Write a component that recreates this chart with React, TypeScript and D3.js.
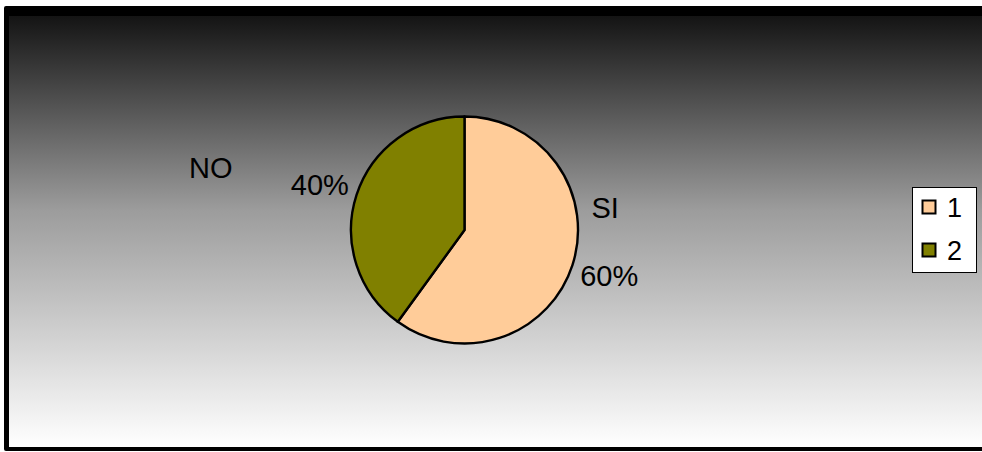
import React from "react";
import * as d3 from "d3";

const categories = ["1", "2"];
const values = [60, 40];
const sliceNames = ["SI", "NO"];
const colors = ["#FFCC99", "#808000"];

const W = 982;
const H = 452;
const cx = 464.5;
const cy = 230;
const R = 113.5;
const FONT = "'Liberation Sans', Arial, sans-serif";
// small nudges of the percentage labels and category names (relative to the label arc)
const pctOffsets: [number, number][] = [
  [2, 0],
  [-2, 1],
];
const nameOffsets: [number, number][] = [
  [-2, -68],
  [-111, -16],
];

export default function App() {
  const pie = d3.pie<number>().value((d) => d).sort(null);
  const arcs = pie(values);
  const arcGen = d3.arc<d3.PieArcDatum<number>>().innerRadius(0).outerRadius(R);
  const labelArc = d3.arc<d3.PieArcDatum<number>>().innerRadius(150).outerRadius(150);
  const total = d3.sum(values);

  return (
    <svg
      width={W}
      height={H}
      style={{ position: "absolute", left: 0, top: 0, display: "block" }}
    >
      <defs>
        <linearGradient id="bg" x1="0" y1="0" x2="0" y2="1">
          <stop offset="0%" stopColor="#141414" />
          <stop offset="45%" stopColor="#9c9c9c" />
          <stop offset="100%" stopColor="#ffffff" />
        </linearGradient>
      </defs>
      <rect x={0} y={0} width={W} height={H} fill="#ffffff" />
      {/* frame */}
      <rect x={4} y={6} width={W} height={445} fill="#000000" rx={2} />
      <rect x={9} y={16} width={W} height={431} fill="url(#bg)" />

      <g transform={`translate(${cx},${cy})`}>
        {arcs.map((a, i) => (
          <path
            key={i}
            d={arcGen(a) || ""}
            fill={colors[i]}
            stroke="#000"
            strokeWidth={2.4}
            strokeLinejoin="round"
          />
        ))}
        {arcs.map((a, i) => {
          const [lx, ly] = labelArc.centroid(a);
          const pct = d3.format(".0%")(values[i] / total);
          return (
            <g key={"l" + i}>
              <text
                x={lx + pctOffsets[i][0]}
                y={ly + pctOffsets[i][1]}
                textAnchor="middle"
                dominantBaseline="central"
                fontFamily={FONT}
                fontSize={29}
                fill="#000"
              >
                {pct}
              </text>
              <text
                x={lx + nameOffsets[i][0]}
                y={ly + nameOffsets[i][1]}
                textAnchor="middle"
                dominantBaseline="central"
                fontFamily={FONT}
                fontSize={29}
                fill="#000"
              >
                {sliceNames[i]}
              </text>
            </g>
          );
        })}
      </g>

      {/* legend */}
      <g>
        <rect x={912.5} y={187.5} width={64} height={85} fill="#fff" stroke="#000" strokeWidth={1} />
        {categories.map((c, i) => (
          <g key={c} transform={`translate(922,${200 + i * 43})`}>
            <rect x={0.5} y={0.5} width={13} height={13} fill={colors[i]} stroke="#000" strokeWidth={2} />
            <text x={25} y={8} dominantBaseline="central" fontFamily={FONT} fontSize={27} fill="#000">
              {c}
            </text>
          </g>
        ))}
      </g>
    </svg>
  );
}
